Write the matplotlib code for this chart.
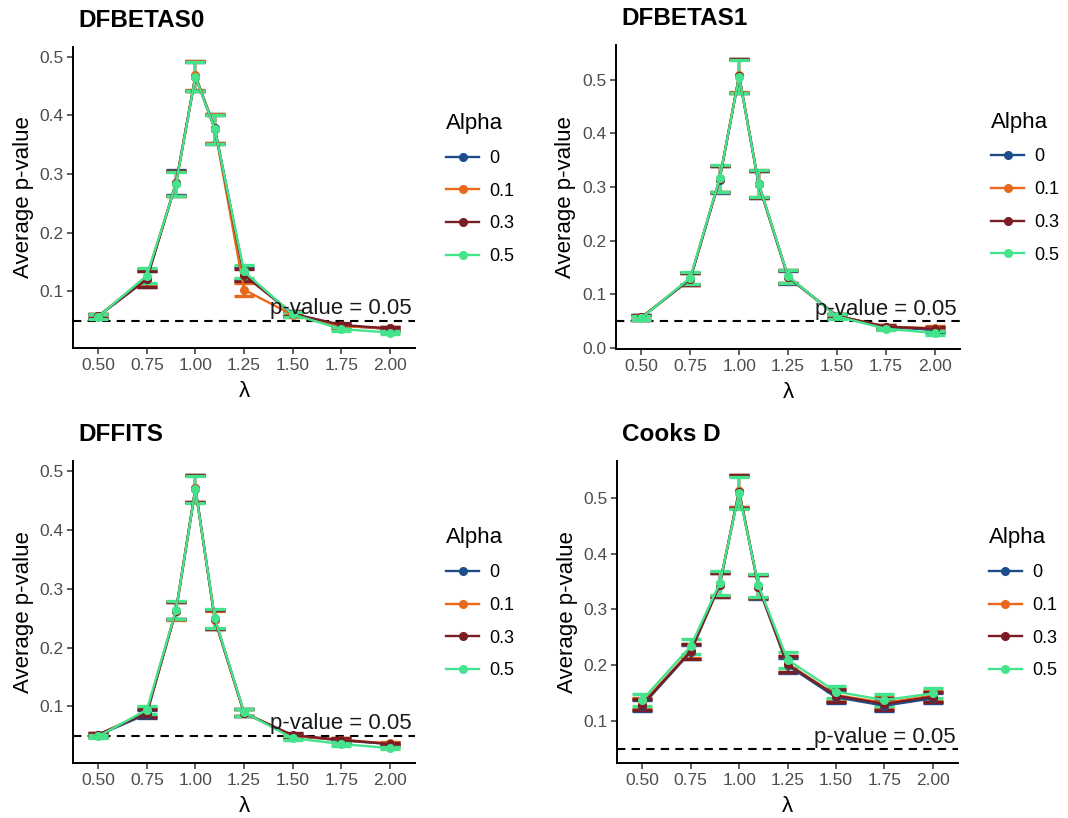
import matplotlib
matplotlib.use("Agg")
import matplotlib.pyplot as plt
from matplotlib.ticker import FixedLocator, MultipleLocator, FormatStrFormatter

plt.rcParams["font.family"] = ["Liberation Sans", "DejaVu Sans"]

# lambda values on the x axis
lam = [0.5, 0.75, 0.9, 1.0, 1.1, 1.25, 1.5, 1.75, 2.0]
x_ticks = [0.5, 0.75, 1.0, 1.25, 1.5, 1.75, 2.0]

alphas = ["0", "0.1", "0.3", "0.5"]
alpha_colors = ["#1d4e89", "#e8691c", "#7a1c24", "#45e48c"]

titles = ["DFBETAS0", "DFBETAS1", "DFFITS", "Cooks D"]

# average p-values, one list per alpha (0, 0.1, 0.3, 0.5)
dfbetas0 = [
    [0.058, 0.121, 0.285, 0.467, 0.378, 0.130, 0.062, 0.042, 0.036],
    [0.058, 0.125, 0.284, 0.468, 0.377, 0.103, 0.060, 0.041, 0.037],
    [0.058, 0.121, 0.284, 0.466, 0.376, 0.128, 0.062, 0.043, 0.037],
    [0.057, 0.127, 0.283, 0.466, 0.376, 0.134, 0.061, 0.036, 0.030],
]
dfbetas0_hw = [0.004, 0.013, 0.021, 0.025, 0.025, 0.011, 0.004, 0.003, 0.003]

dfbetas1 = [
    [0.057, 0.128, 0.314, 0.507, 0.305, 0.132, 0.060, 0.039, 0.034],
    [0.057, 0.129, 0.315, 0.508, 0.306, 0.133, 0.060, 0.040, 0.037],
    [0.057, 0.129, 0.315, 0.507, 0.305, 0.133, 0.060, 0.040, 0.036],
    [0.056, 0.131, 0.316, 0.506, 0.306, 0.134, 0.059, 0.036, 0.028],
]
dfbetas1_hw = [0.004, 0.011, 0.025, 0.031, 0.025, 0.012, 0.004, 0.003, 0.004]

dffits = [
    [0.051, 0.087, 0.263, 0.471, 0.248, 0.089, 0.050, 0.042, 0.036],
    [0.052, 0.090, 0.262, 0.471, 0.247, 0.089, 0.050, 0.043, 0.037],
    [0.052, 0.089, 0.263, 0.470, 0.248, 0.089, 0.051, 0.043, 0.036],
    [0.049, 0.094, 0.264, 0.469, 0.250, 0.090, 0.046, 0.036, 0.029],
]
dffits_hw = [0.003, 0.007, 0.015, 0.023, 0.016, 0.006, 0.003, 0.003, 0.002]

cooks = [
    [0.128, 0.224, 0.344, 0.512, 0.340, 0.200, 0.143, 0.128, 0.141],
    [0.132, 0.226, 0.345, 0.512, 0.341, 0.203, 0.147, 0.133, 0.146],
    [0.130, 0.225, 0.344, 0.511, 0.341, 0.202, 0.146, 0.131, 0.144],
    [0.138, 0.234, 0.347, 0.508, 0.343, 0.210, 0.153, 0.138, 0.150],
]
cooks_hw = [0.010, 0.013, 0.021, 0.029, 0.021, 0.014, 0.011, 0.010, 0.009]

panels = [(dfbetas0, dfbetas0_hw), (dfbetas1, dfbetas1_hw), (dffits, dffits_hw), (cooks, cooks_hw)]

threshold = 0.05
bar_half = 0.05  # errorbar width 0.1 in data units

W, H = 1068, 818
# axes boxes in pixels: left, top, right, bottom
boxes = [(73, 47, 415, 348), (616, 45, 960, 349), (73, 461, 415, 763), (617, 461, 958, 763)]

fig = plt.figure(figsize=(W / 100, H / 100), dpi=100)

for (series, hw), title, (l, t, r, b) in zip(panels, titles, boxes):
    ax = fig.add_axes([l / W, 1 - b / H, (r - l) / W, (b - t) / H])

    lows, highs = [threshold], [threshold]
    for vals, label, color in zip(series, alphas, alpha_colors):
        lo = [v - h for v, h in zip(vals, hw)]
        hi = [v + h for v, h in zip(vals, hw)]
        lows += lo
        highs += hi
        ax.errorbar(lam, vals, yerr=[[v - a for v, a in zip(vals, lo)], [c - v for v, c in zip(vals, hi)]],
                    fmt="none", ecolor=color, elinewidth=1.7, capsize=7, capthick=2.4, zorder=2)
        ax.plot(lam, vals, color=color, lw=1.7, marker="o", ms=5.5, label=label, zorder=3)

    ax.axhline(threshold, color="black", lw=1.5, ls=(0, (4, 3)), zorder=1)
    ax.text(1.75, threshold + 0.003, "p-value = 0.05", ha="center", va="bottom", fontsize=16, color="#1a1a1a")

    x0, x1 = lam[0] - bar_half, lam[-1] + bar_half
    xr = x1 - x0
    ax.set_xlim(x0 - 0.05 * xr, x1 + 0.05 * xr)
    y0, y1 = min(lows), max(highs)
    yr = y1 - y0
    ax.set_ylim(y0 - 0.05 * yr, y1 + 0.05 * yr)

    ax.xaxis.set_major_locator(FixedLocator(x_ticks))
    ax.xaxis.set_major_formatter(FormatStrFormatter("%.2f"))
    ax.yaxis.set_major_locator(MultipleLocator(0.1))
    ax.yaxis.set_major_formatter(FormatStrFormatter("%.1f"))

    for side in ("top", "right"):
        ax.spines[side].set_visible(False)
    for side in ("left", "bottom"):
        ax.spines[side].set_linewidth(1.4)
        ax.spines[side].set_color("black")
    ax.tick_params(axis="both", length=4, width=1.1, color="#333333", labelcolor="#4d4d4d",
                   labelsize=12.5, pad=3)

    ax.set_xlabel("λ", fontsize=16, color="black", labelpad=6)
    ax.set_ylabel("Average p-value", fontsize=16, color="black")
    ax.yaxis.set_label_coords(-0.115, 0.5)

    ax.text(0.015, 1 + 20 / (b - t), title, transform=ax.transAxes, fontsize=17.5,
            fontweight="bold", ha="left", va="baseline")

    leg = ax.legend(title="Alpha", loc="upper left", bbox_to_anchor=(1.065, 0.81), frameon=False,
                    fontsize=13, title_fontsize=16, handlelength=1.8, handletextpad=0.6,
                    labelspacing=0.87, borderpad=0, alignment="left")

fig.savefig("out.png", dpi=100)
